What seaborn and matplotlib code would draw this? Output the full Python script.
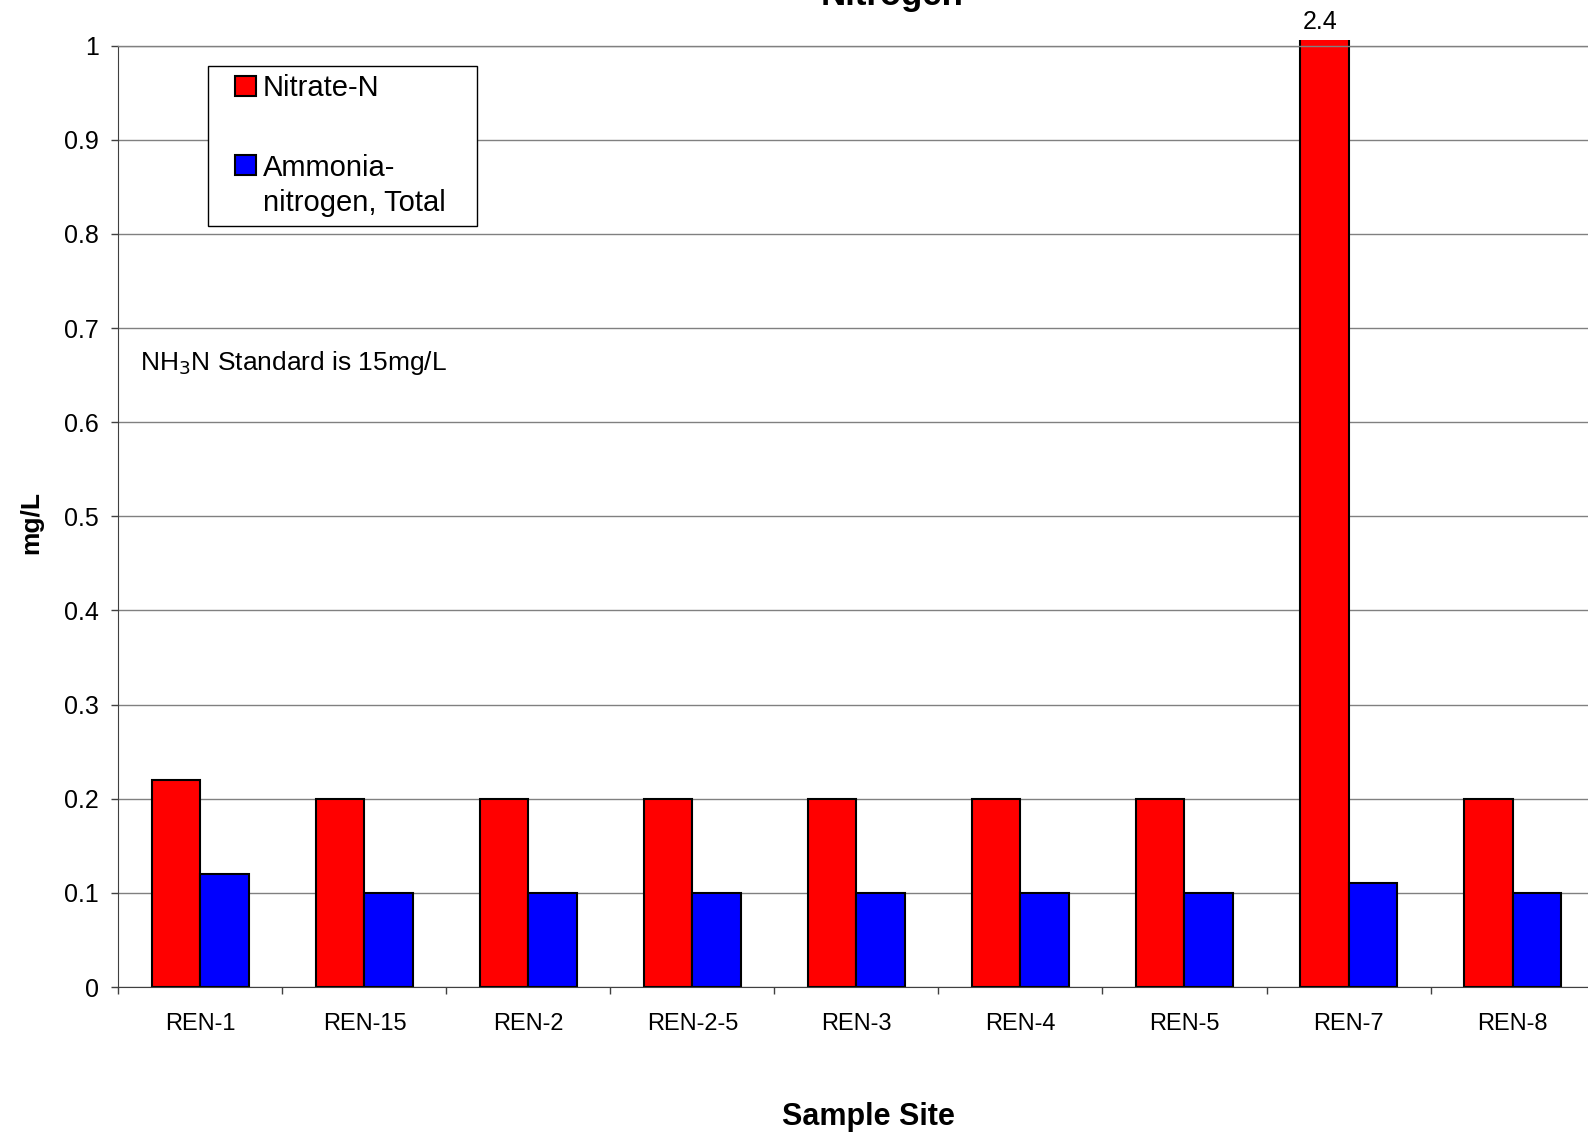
import numpy as np
import pandas as pd
import seaborn as sns
import matplotlib.pyplot as plt
from matplotlib.ticker import MultipleLocator, FuncFormatter
from matplotlib.transforms import Bbox, TransformedBbox

sites = ['REN-1', 'REN-15', 'REN-2', 'REN-2-5', 'REN-3', 'REN-4', 'REN-5', 'REN-7', 'REN-8']
nitrate = [0.22, 0.2, 0.2, 0.2, 0.2, 0.2, 0.2, 2.4, 0.2]
ammonia = [0.12, 0.1, 0.1, 0.1, 0.1, 0.1, 0.1, 0.11, 0.1]
series_names = ['Nitrate-N', 'Ammonia-\nnitrogen, Total']
colors = ['#FF0000', '#0000FF']

df = pd.DataFrame({'Site': sites, series_names[0]: nitrate, series_names[1]: ammonia})
df_long = df.melt(id_vars='Site', var_name='Series', value_name='mgL')

sns.set_style('white')
plt.rcParams['font.family'] = ['Liberation Sans', 'DejaVu Sans']
plt.rcParams['text.color'] = 'black'
plt.rcParams['axes.labelcolor'] = 'black'
plt.rcParams['xtick.color'] = 'black'
plt.rcParams['ytick.color'] = 'black'

fig = plt.figure(figsize=(15.88, 11.34), dpi=100)
ax = fig.add_axes([0.0746, 0.1296, 0.9295, 0.8302])

sns.barplot(data=df_long, x='Site', y='mgL', hue='Series', palette=dict(zip(series_names, colors)),
            width=0.59, gap=0, saturation=1, edgecolor='black', linewidth=1.5, ax=ax, legend=False)

ax.set_ylim(0, 1)
ax.set_xlim(-0.5, len(sites) - 0.5)
ax.yaxis.set_major_locator(MultipleLocator(0.1))
ax.yaxis.set_major_formatter(FuncFormatter(lambda v, p: f'{v:g}'))
ax.grid(axis='y', color='#808080', linewidth=1.0)
ax.set_axisbelow(True)

# let the off-scale bar poke just above the frame like the original
clip = TransformedBbox(Bbox([[0, 0], [1, 1.006]]), ax.transAxes)
for p in ax.patches:
    p.set_clip_box(clip)

# ticks between categories, labels centred
ax.set_xticks(np.arange(len(sites)))
ax.set_xticklabels(sites)
ax.set_xticks(np.arange(len(sites) + 1) - 0.5, minor=True)
ax.tick_params(axis='x', which='major', bottom=True, length=0, pad=19, labelsize=17)
ax.tick_params(axis='x', which='minor', bottom=True, length=5, width=1, color='#404040', direction='out')
ax.tick_params(axis='y', left=True, length=5, width=1, color='#404040', direction='out', labelsize=18, pad=9)

ax.spines['right'].set_visible(False)
ax.spines['top'].set_color('#808080')
ax.spines['top'].set_linewidth(1.0)
ax.spines['left'].set_color('#404040')
ax.spines['bottom'].set_color('#404040')

ax.set_xlabel('Sample Site', fontsize=22, fontweight='bold')
ax.xaxis.set_label_coords(0.508, -0.138)
ax.xaxis.label.set_va('center')
ax.set_ylabel('mg/L', fontsize=19, fontweight='bold')
ax.yaxis.set_label_coords(-0.0593, 0.493)
ax.yaxis.label.set_va('center')

# value label for the off-scale bar
i_max = int(np.argmax(nitrate))
ax.annotate(f'{nitrate[i_max]:g}', xy=(i_max - 0.59 / 4, 1.0), xytext=(-3, 8), textcoords='offset points',
            ha='center', va='bottom', fontsize=18, annotation_clip=False)

ax.text(0.0146, 0.663, 'NH$_3$N Standard is 15mg/L', transform=ax.transAxes, fontsize=19,
        va='center', ha='left')

fig.text(0.5617, 1 - 5 / 1134, 'Nitrogen', fontsize=25, fontweight='bold', ha='center', va='baseline')

fs = 21
handles = [plt.Rectangle((0, 0), 1, 1, facecolor=c, edgecolor='black', linewidth=1.5) for c in colors]
leg = ax.legend(handles, series_names, loc='upper left', bbox_to_anchor=(0.0609, 0.8, 0.1823, 0.1787),
                mode='expand', fontsize=fs, frameon=True, fancybox=False, edgecolor='black', framealpha=1,
                handlelength=1.32, handleheight=0.7, handletextpad=0.25, labelspacing=1.78,
                borderpad=0.3, borderaxespad=0)
leg.get_frame().set_linewidth(1.0)
for t in leg.get_texts():
    t.set_linespacing(1.3)
# square markers sit at the right of the handle box, on the first text line
for h, name in zip(leg.legend_handles, series_names):
    h.set_x(h.get_x() + 0.62 * fs)
    h.set_width(0.7 * fs)
    h.set_y(h.get_y() + 0.74 * fs * name.count('\n'))

fig.savefig('out.png', dpi=100)
